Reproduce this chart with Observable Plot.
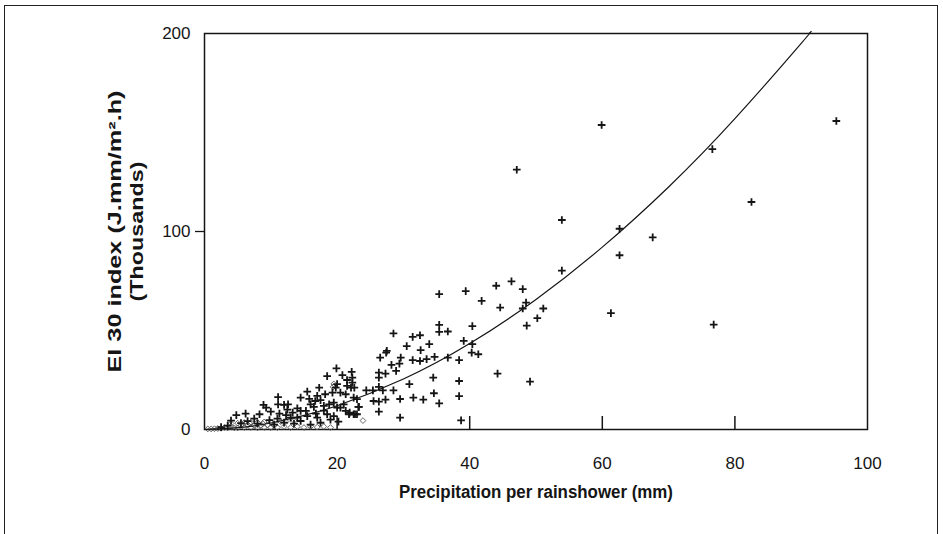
<!DOCTYPE html>
<html>
<head>
<meta charset="utf-8">
<script src="https://cdn.jsdelivr.net/npm/d3@7"></script>
<script src="https://cdn.jsdelivr.net/npm/@observablehq/plot@0.6"></script>
<style>
  html, body { margin: 0; padding: 0; background: #fff; }
  #wrap { position: relative; width: 943px; height: 534px; overflow: hidden; }
  #border { position: absolute; left: 4px; top: 5px; width: 934px; height: 540px; border: 1.5px solid #222; box-sizing: border-box; }
  #chart { position: absolute; left: 0; top: 0; }
</style>
</head>
<body>
<div id="wrap"><div id="border"></div><div id="chart"></div></div>
<script>
// Rainshowers: precipitation (mm) and EI30 (thousands J.mm/m2.h) — "+" markers
const precipitation = [
  59.9, 47.1, 53.9, 95.3, 76.6, 82.5, 62.6, 67.6, 62.6, 61.3, 76.8, 53.9,
  46.3, 44.0, 48.0, 39.4, 35.4, 41.8, 48.5, 44.6, 48.0, 51.1, 50.2, 48.6,
  35.4, 40.4, 35.4, 36.7, 39.1, 40.4, 40.3, 41.3, 36.7, 38.4, 34.5, 38.4,
  44.2, 49.1, 38.4, 35.4, 38.7, 29.5, 34.6,
  28.5, 31.4, 32.5, 33.9, 30.5, 27.5, 32.6, 26.5, 27.4, 29.6, 31.4, 32.5,
  33.5, 34.7, 28.2, 29.4, 28.9, 26.3, 27.3, 26.3, 30.9, 24.4, 25.4, 26.3,
  26.9, 28.5, 25.5, 26.3, 27.3, 29.5, 31.5, 33.0, 26.3, 22.2, 19.9, 23.2,
  21.9, 22.7,
  18.5, 17.3, 15.5, 14.5, 11.1, 11.1, 12.0, 12.6, 8.9, 9.3, 6.2, 4.8,
  8.3, 9.8, 11.3, 12.3, 14.0, 14.5, 15.3, 16.0, 16.5, 16.7, 17.5, 18.0,
  18.8, 19.5, 20.0, 18.2, 19.3, 19.8, 20.0, 18.5, 19.5, 17.0, 17.5, 15.5,
  14.0, 13.0, 14.5, 22.3, 22.3, 21.5, 22.1, 22.6, 20.5, 21.3, 22.5, 23.0,
  21.0, 20.5, 21.3, 21.8, 22.5, 23.0, 23.3, 20.8, 21.5, 19.0, 20.2, 16.0,
  13.5, 12.0, 11.0, 10.5, 7.5, 6.5, 5.5, 8.0, 3.5, 2.5, 4.0, 10.0,
  12.5, 13.3, 15.8, 17.0, 18.0, 16.8
];
const ei30 = [
  153.8, 131.2, 105.8, 155.8, 141.6, 114.9, 101.4, 97.0, 88.0, 58.8, 53.0, 80.2,
  74.8, 72.6, 70.9, 69.9, 68.4, 65.0, 64.1, 61.6, 61.1, 61.1, 56.2, 52.5,
  52.8, 52.2, 49.3, 49.5, 44.8, 43.1, 38.8, 38.0, 36.3, 35.0, 26.2, 24.5,
  28.2, 24.2, 16.9, 13.2, 4.6, 6.0, 18.3,
  48.5, 46.8, 47.6, 43.1, 42.1, 39.7, 40.1, 36.3, 38.8, 36.3, 35.0, 34.6,
  35.5, 36.7, 32.6, 33.3, 29.6, 28.7, 28.2, 26.2, 22.9, 19.8, 19.8, 21.5,
  19.8, 19.8, 14.4, 14.1, 15.1, 15.4, 16.1, 15.1, 9.0, 29.1, 30.9, 11.4,
  8.5, 7.7,
  27.0, 21.1, 19.1, 16.1, 16.4, 12.7, 12.4, 12.7, 12.4, 11.0, 8.0, 7.3,
  7.7, 4.7, 8.0, 7.3, 10.7, 9.4, 9.4, 12.7, 11.4, 14.4, 14.8, 11.9,
  12.7, 13.6, 11.0, 17.8, 18.6, 21.1, 22.9, 7.7, 6.8, 6.0, 3.4, 6.8,
  6.0, 6.0, 4.3, 26.2, 23.7, 22.0, 21.1, 21.1, 18.6, 17.8, 16.1, 15.3,
  12.7, 11.0, 9.4, 7.7, 7.7, 7.7, 11.4, 27.5, 25.0, 5.0, 4.0, 2.5,
  3.0, 3.5, 5.5, 2.5, 5.5, 4.2, 3.2, 3.0, 2.0, 1.2, 4.5, 9.0,
  10.0, 8.5, 15.5, 17.0, 9.5, 8.0
];
// small showers drawn with open markers near the baseline
const smallPrecip = [0.5, 1.0, 1.5, 2.0, 2.5, 3.0, 3.5, 4.0, 4.5, 5.0, 5.5, 6.0, 6.5, 7.0, 7.5, 8.0, 8.5, 9.0, 9.5, 10.0, 10.5, 11.0, 4.0, 5.0, 6.0, 7.0, 8.0, 9.0, 10.0, 12.0, 13.0, 14.0, 15.0, 16.0, 17.0, 18.0, 19.0, 23.9, 19.4, 19.5, 12.3, 13.5, 11.5, 6.8, 8.8];
const smallEi30  = [0.3, 0.3, 0.4, 0.5, 0.6, 1.0, 0.8, 1.5, 0.8, 0.8, 2.0, 1.0, 2.5, 1.0, 2.0, 0.8, 2.0, 1.0, 2.3, 1.0, 2.0, 1.0, 3.0, 3.2, 3.5, 3.6, 3.5, 3.8, 3.6, 1.5, 1.0, 1.5, 1.0, 1.5, 1.2, 1.5, 1.0, 4.5, 21.5, 23.0, 4.0, 4.5, 4.0, 3.2, 3.0];
// fitted curve
const curvePrecip = [0, 5, 10, 15, 20, 30, 40, 50, 60, 70, 80, 90, 91.2];
const curveEi30   = [0, 0.9, 3.3, 7.1, 12.0, 25.5, 43.4, 65.7, 92.1, 122.5, 157, 195, 200];

const xTicks = [0, 20, 40, 60, 80, 100];
const xInnerTicks = [20, 40, 60, 80];
const yTicks = [0, 100, 200];
const yMidTicks = [100];
const xLabel = "Precipitation per rainshower (mm)";
const yLabel1 = "EI 30 index (J.mm/m².h)";
const yLabel2 = "(Thousands)";

const points = precipitation.map((x, i) => ({x, y: ei30[i]}));
const small = smallPrecip.map((x, i) => ({x, y: smallEi30[i]}));
const curve = curvePrecip.map((x, i) => ({x, y: curveEi30[i]}));

const ink = "#151515";
const chart = Plot.plot({
  width: 943,
  height: 534,
  marginLeft: 204,
  marginRight: 76,
  marginTop: 33,
  marginBottom: 105,
  style: {fontFamily: "'Liberation Sans', Arial, Helvetica, sans-serif", fontSize: "17px", color: ink, background: "transparent"},
  x: {domain: [0, 100]},
  y: {domain: [0, 200]},
  marks: [
    Plot.frame({stroke: ink, strokeWidth: 1.5}),
    Plot.dot(small, {x: "x", y: "y", symbol: "diamond2", r: 2.6, stroke: "#555", strokeWidth: 0.9}),
    Plot.line(curve, {x: "x", y: "y", curve: "natural", stroke: ink, strokeWidth: 1.2}),
    Plot.dot(points, {x: "x", y: "y", symbol: "plus", r: 2.6, stroke: ink, strokeWidth: 1.8}),
    Plot.axisX(xTicks, {tickSize: 0, tickPadding: 27, label: null, fontSize: 17}),
    Plot.axisX(xInnerTicks, {tickSize: -13, tickFormat: () => "", label: null, stroke: ink, strokeWidth: 1.5}),
    Plot.axisY(yTicks, {tickSize: 0, tickPadding: 14, label: null, fontSize: 17}),
    Plot.axisY(yMidTicks, {tickSize: 9, tickFormat: () => "", label: null, stroke: ink, strokeWidth: 1.3}),
    Plot.text([xLabel], {text: d => d, frameAnchor: "bottom", dy: 68, fontSize: 18, fontWeight: "bold", fill: ink}),
    Plot.text([yLabel1], {text: d => d, frameAnchor: "left", textAnchor: "middle", rotate: -90, dx: -89, fontSize: 18, fontWeight: "bold", fill: ink}),
    Plot.text([yLabel2], {text: d => d, frameAnchor: "left", textAnchor: "middle", rotate: -90, dx: -67, fontSize: 18, fontWeight: "bold", fill: ink})
  ]
});
// stretch label glyphs along their reading direction, as in the scanned figure
const stretch = new Map([[xLabel, 274], [yLabel1, 282], [yLabel2, 140]]);
d3.select(chart).selectAll("text").each(function() {
  const len = stretch.get(this.textContent);
  if (len) { this.setAttribute("textLength", len); this.setAttribute("lengthAdjust", "spacingAndGlyphs"); }
});
document.getElementById("chart").appendChild(chart);
</script>
</body>
</html>
